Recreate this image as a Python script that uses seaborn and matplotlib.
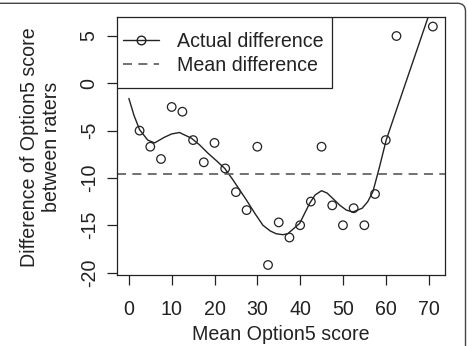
import numpy as np
import pandas as pd
import matplotlib
matplotlib.use("Agg")
import matplotlib.pyplot as plt
import seaborn as sns
from matplotlib.lines import Line2D
from matplotlib.patches import FancyBboxPatch, Rectangle
from matplotlib.transforms import IdentityTransform

mean_score = [2.5, 5, 7.5, 10, 12.5, 15, 17.5, 20, 22.5, 25, 27.5, 30, 32.5,
              35, 37.5, 40, 42.5, 45, 47.5, 50, 52.5, 55, 57.5, 60, 62.5, 71]
difference = [-5.0, -6.7, -8.0, -2.5, -3.0, -6.0, -8.35, -6.3, -9.0, -11.5, -13.4,
              -6.7, -19.2, -14.7, -16.3, -15.0, -12.5, -6.7, -12.9, -15.0, -13.2,
              -15.0, -11.7, -6.0, 5.0, 6.0]

# smoothed curve
curve_x = [0, 1.2, 2.5, 4.4, 6, 8.3, 10, 11.8, 14.6, 16.5, 18.5, 20.5, 22.4, 24.3,
           27.4, 29.5, 31.3, 33, 34.4, 36, 37.1, 39.9, 42.2, 43.5, 45, 46.3, 47.7,
           49.3, 50.8, 52.3, 54.5, 55.8, 57, 58.5, 60.1, 62.5, 64.8, 69.9, 71]
curve_y = [-1.6, -3.4, -4.9, -6.0, -6.3, -5.7, -5.35, -5.2, -5.8, -6.5, -7.4, -8.2,
           -9.0, -10.2, -12.3, -13.8, -15.0, -15.6, -15.9, -16.0, -15.9, -14.8,
           -12.7, -11.8, -11.35, -11.6, -12.2, -12.9, -13.4, -13.6, -13.2, -12.5,
           -11.45, -8.9, -6.0, -2.8, 0.25, 7.0, 8.5]

mean_diff = -9.6

xticks = [0, 10, 20, 30, 40, 50, 60, 70]
yticks = [-20, -15, -10, -5, 0, 5]

pts = pd.DataFrame({"score": mean_score, "diff": difference})
fit = pd.DataFrame({"score": curve_x, "diff": curve_y})

sns.set_theme(style="white")
plt.rcParams["font.family"] = ["Liberation Sans", "DejaVu Sans"]

ink = "#222222"
fs = 14.1
fig = plt.figure(figsize=(4.68, 3.46), dpi=100)
ax = fig.add_axes([0.2494, 0.2052, 0.7015, 0.7465])

sns.lineplot(data=fit, x="score", y="diff", ax=ax, color=ink, lw=1.0,
             sort=False, estimator=None)
sns.scatterplot(data=pts, x="score", y="diff", ax=ax, marker="o", s=38,
                facecolors="none", edgecolor=ink, linewidth=0.9, zorder=3)
ax.axhline(mean_diff, color="#666666", lw=1.3, dashes=(5, 3.5))

ax.set_xlim(-2.84, 73.84)
ax.set_ylim(-20.26, 7.04)
ax.set_xticks(xticks)
ax.set_yticks(yticks)
ax.set_xticklabels([str(t) for t in xticks])
ax.set_yticklabels([str(t) for t in yticks], rotation=90, va="center")
ax.tick_params(axis="both", direction="out", length=7, width=0.9, color=ink,
               labelsize=fs, labelcolor=ink, bottom=True, left=True)
ax.tick_params(axis="x", pad=11)
ax.tick_params(axis="y", pad=6)
for s in ax.spines.values():
    s.set_color(ink)
    s.set_linewidth(0.9)
ax.set_xlabel("")
ax.set_ylabel("")

# legend box drawn by hand, R style
ax.add_patch(Rectangle((0, 0.7228), 0.6567, 0.2772, transform=ax.transAxes,
                       facecolor="white", edgecolor=ink, lw=0.9, zorder=4))
handles = [Line2D([], [], color=ink, lw=1.0, marker="o", ms=6.2, mfc="none", mec=ink),
           Line2D([], [], color="#666666", lw=1.3, dashes=(5, 3.5))]
leg = ax.legend(handles, ["Actual difference", "Mean difference"], loc="upper left",
                bbox_to_anchor=(0.0183, 0.94), borderaxespad=0, borderpad=0,
                fontsize=fs, frameon=False, handlelength=1.85, handletextpad=0.9,
                labelspacing=0.25)
leg.set_zorder(5)
for t in leg.get_texts():
    t.set_color(ink)

fig.text(280.8 / 468, 1 - 335 / 346, "Mean Option5 score", ha="center", va="center",
         fontsize=fs, color=ink)
fig.text(40.5 / 468, 1 - 147 / 346, "Difference of Option5 score\nbetween raters",
         rotation=90, ha="center", va="center", multialignment="center",
         fontsize=fs, color=ink, linespacing=1.2)

fig.patches.append(FancyBboxPatch((-10, -10), 475.5, 352.7,
                                  boxstyle="round,pad=0,rounding_size=8",
                                  transform=IdentityTransform(), fill=False,
                                  ec="#444444", lw=1.0))

fig.savefig("out.png", dpi=100)
